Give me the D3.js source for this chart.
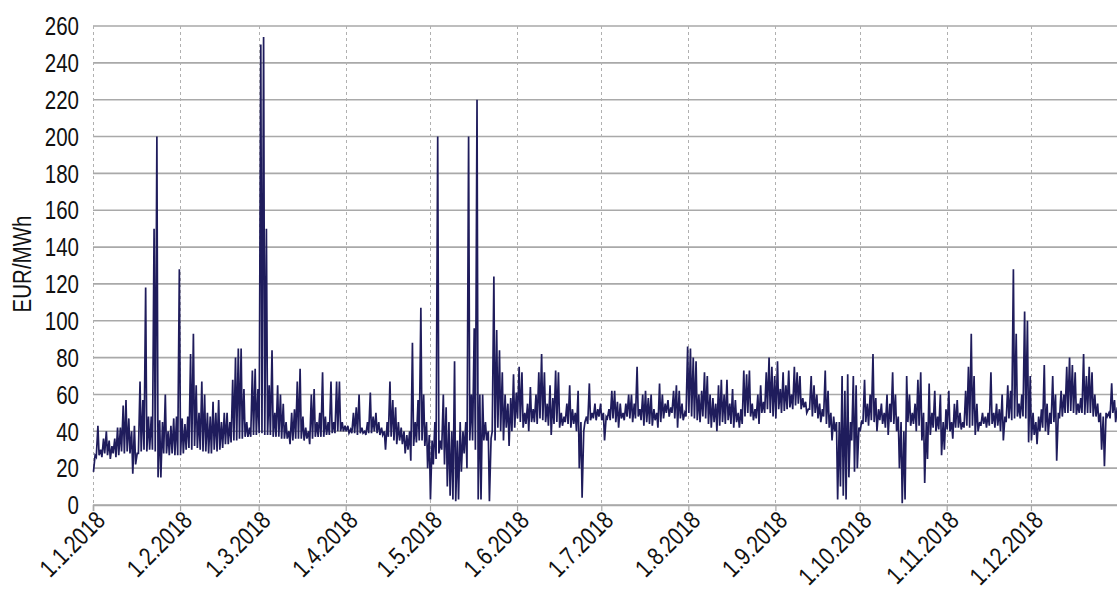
<!DOCTYPE html>
<html>
<head>
<meta charset="utf-8">
<script src="https://cdn.jsdelivr.net/npm/d3@7/dist/d3.min.js"></script>
<style>
  html, body { margin: 0; padding: 0; background: #fff; }
  svg { display: block; }
  text { font-family: "Liberation Sans", Arial, sans-serif; fill: #111; }
</style>
</head>
<body>
<svg id="chart" width="1117" height="597"></svg>
<script>
// ---- data ----
const monthTicks = ["1.1.2018","1.2.2018","1.3.2018","1.4.2018","1.5.2018","1.6.2018",
                    "1.7.2018","1.8.2018","1.9.2018","1.10.2018","1.11.2018","1.12.2018"];
const yTicks = [0,20,40,60,80,100,120,140,160,180,200,220,240,260];
const yLabel = "EUR/MWh";
const lowHour = 4, highHour = 18;

// daily night (low) and evening (high) prices, EUR/MWh
const lowJan = [18,26,27,26,28,27,25,28,26,27,29,28,29,28,17,22,28,29,30,29,30,30,29,15,15,28,28,27,28,27,27];
const highJan = [27,43,30,36,40,35,32,36,42,42,54,57,47,40,43,28,67,57,118,48,48,150,200,46,45,60,40,43,47,48,128];
const lowFeb = [27,28,30,31,30,32,31,30,29,29,28,28,30,29,30,31,33,33,34,35,35,36,36,37,37,37,38,38];
const highFeb = [47,44,48,82,93,65,50,67,60,50,48,56,50,57,45,50,50,45,68,80,85,85,63,45,42,73,74,63];
const lowMar = [39,39,38,38,38,37,37,37,36,36,36,33,35,36,36,36,35,36,33,36,37,37,37,37,38,38,39,39,40,40,40];
const highMar = [250,254,150,65,84,50,65,60,55,45,40,50,52,67,74,48,42,40,60,63,45,50,72,48,45,67,45,67,67,45,43];
const lowApr = [40,39,39,39,38,39,39,38,39,39,40,39,38,38,30,37,37,35,33,35,33,28,30,24,32,34,35,35,32,20];
const highApr = [43,41,50,53,60,42,40,45,61,48,50,45,42,40,45,67,57,53,45,42,40,38,40,88,45,57,107,60,45,38];
const lowMay = [3,22,25,28,30,22,10,5,3,2,3,18,28,20,35,35,30,3,3,35,35,2,40,35,42,40,35,42,32,40,42];
const highMay = [35,45,200,35,60,53,45,40,78,35,45,40,45,200,60,96,220,60,60,45,40,36,124,95,84,72,60,55,58,71,61];
const lowJun = [47,45,42,44,40,45,45,44,47,46,45,43,38,44,45,42,43,45,44,42,44,40,20,4,45,44,46,47,46,48];
const highJun = [75,72,50,55,64,52,60,72,82,72,55,65,58,73,72,50,48,55,65,52,50,62,45,40,48,66,50,55,52,55];
const lowJul = [46,35,47,46,47,45,42,47,46,48,47,45,47,48,46,43,45,44,43,46,42,45,47,50,48,50,47,42,47,46,48];
const highJul = [50,48,52,62,62,56,55,50,55,60,60,55,75,52,60,62,58,60,52,50,66,60,55,57,53,62,65,62,55,50,86];
const lowAug = [50,48,47,46,45,48,47,44,42,45,40,43,45,44,46,44,42,45,42,44,48,50,48,46,47,44,50,50,52,50,48];
const highAug = [85,80,78,60,62,72,70,60,58,55,65,68,60,68,55,63,57,50,52,73,71,73,55,52,60,65,56,72,80,75,70];
const lowSep = [47,52,50,51,52,53,52,54,55,52,53,50,52,48,50,47,45,48,44,42,35,40,3,10,5,3,15,35,18,20];
const highSep = [78,63,72,65,73,60,75,72,70,58,56,52,70,65,60,55,52,73,62,50,48,45,45,70,62,71,45,70,65,42];
const lowOct = [40,44,45,43,46,45,40,46,44,42,38,45,44,40,20,1,3,45,43,44,40,43,35,12,25,38,42,40,41,27,30];
const highOct = [46,68,55,60,82,58,52,55,50,60,55,72,60,48,45,40,70,60,50,55,68,72,50,45,66,50,62,48,60,45,52];
const lowNov = [41,40,36,42,42,41,42,43,42,43,38,40,43,44,42,43,44,42,43,40,35,45,47,46,47,48,47,48,47,34];
const highNov = [62,45,55,57,50,45,62,75,93,70,55,45,50,48,50,72,50,55,52,60,48,65,62,128,93,55,60,105,100,70];
const lowDec = [35,38,33,40,42,40,38,44,45,24,47,48,50,50,51,50,49,50,50,49,50,50,48,48,45,30,21,48,47,50,45];
const highDec = [50,45,48,52,76,55,50,70,60,50,62,60,75,80,76,72,55,58,82,70,75,72,60,55,50,48,50,50,66,57,53];

// ---- build series ----
const lows = [].concat(lowJan,lowFeb,lowMar,lowApr,lowMay,lowJun,lowJul,lowAug,lowSep,lowOct,lowNov,lowDec);
const highs = [].concat(highJan,highFeb,highMar,highApr,highMay,highJun,highJul,highAug,highSep,highOct,highNov,highDec);
const t0 = new Date(2018, 0, 1);
const series = [];
lows.forEach((lo, d) => {
  series.push({ t: new Date(2018, 0, 1 + d, lowHour), v: lo });
  series.push({ t: new Date(2018, 0, 1 + d, highHour), v: highs[d] });
});

// ---- layout ----
const svg = d3.select("#chart");
const W = 1117;
const left = 93;
const x = d3.scaleTime().domain([t0, new Date(2019, 0, 1)]).range([left, 1118]);
const y = d3.scaleLinear().domain([0, 260]).range([505, 26]);
const monthDates = monthTicks.map((s, i) => new Date(2018, i, 1));
const squeeze = 0.82;

// horizontal grid
svg.append("g").selectAll("line").data(yTicks).join("line")
  .attr("x1", left).attr("x2", W)
  .attr("y1", d => y(d)).attr("y2", d => y(d))
  .attr("stroke", "#a9a9a9").attr("stroke-width", 1.6);

// vertical dashed grid
svg.append("g").selectAll("line").data(monthDates).join("line")
  .attr("x1", d => Math.round(x(d)) + 0.5).attr("x2", d => Math.round(x(d)) + 0.5)
  .attr("y1", y(260)).attr("y2", y(0))
  .attr("stroke", "#b0b0b0").attr("stroke-width", 1).attr("stroke-dasharray", "3,3");

// x axis
const xAxis = d3.axisBottom(x).tickValues(monthDates)
  .tickFormat((d, i) => monthTicks[i]).tickSize(6).tickPadding(4);
const gx = svg.append("g").attr("transform", `translate(0,${y(0)})`).call(xAxis);
gx.select(".domain").attr("stroke", "#a9a9a9").attr("stroke-width", 1.6);
gx.selectAll(".tick line").attr("stroke", "#a9a9a9").attr("stroke-width", 1.2);
gx.selectAll(".tick text")
  .attr("font-size", 25)
  .attr("font-family", "'Liberation Sans', Arial, sans-serif")
  .attr("fill", "#111")
  .attr("text-anchor", "end")
  .attr("dx", 0).attr("dy", 0).attr("x", 0).attr("y", 0)
  .attr("transform", `translate(13,17) rotate(-45) scale(${squeeze},1)`);

// y axis labels
const yAxis = d3.axisLeft(y).tickValues(yTicks).tickSize(0).tickPadding(0);
const gy = svg.append("g").attr("transform", `translate(${left},0)`).call(yAxis);
gy.select(".domain").remove();
gy.selectAll(".tick text")
  .attr("font-size", 25)
  .attr("font-family", "'Liberation Sans', Arial, sans-serif")
  .attr("fill", "#111")
  .attr("x", 0).attr("dy", "0.35em")
  .attr("transform", `translate(-14,0) scale(${squeeze},1)`);

// y title
svg.append("text")
  .attr("transform", `translate(31,264) rotate(-90) scale(${squeeze},1)`)
  .attr("text-anchor", "middle")
  .attr("font-size", 25)
  .text(yLabel);

// price line
const line = d3.line().x(d => x(d.t)).y(d => y(d.v));
svg.append("path").datum(series)
  .attr("fill", "none")
  .attr("stroke", "#1f1c5c")
  .attr("stroke-width", 1.7)
  .attr("d", line);
</script>
</body>
</html>
